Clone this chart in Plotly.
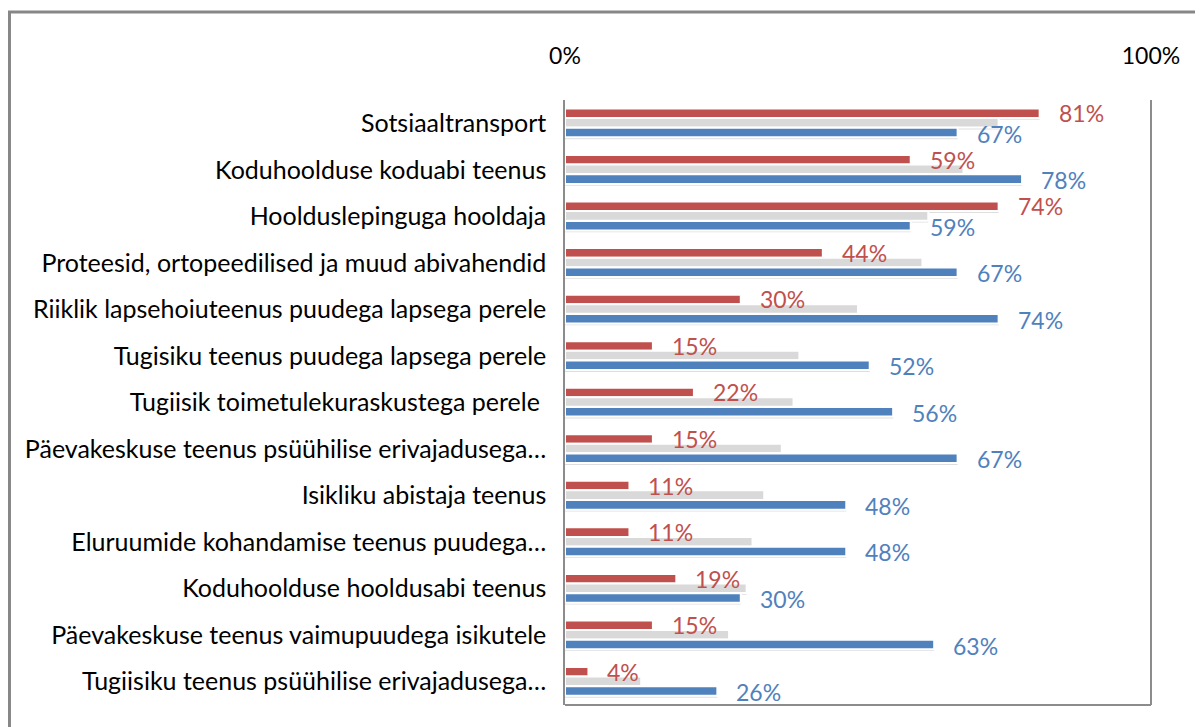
import plotly.graph_objects as go

# ── Data ────────────────────────────────────────────────
CATEGORIES = [
    "Sotsiaaltransport",
    "Koduhoolduse koduabi teenus",
    "Hoolduslepinguga hooldaja",
    "Proteesid, ortopeedilised ja muud abivahendid",
    "Riiklik lapsehoiuteenus puudega lapsega perele",
    "Tugisiku teenus puudega lapsega perele",
    "Tugiisik toimetulekuraskustega perele ",
    "Päevakeskuse teenus psüühilise erivajadusega…",
    "Isikliku abistaja teenus",
    "Eluruumide kohandamise teenus puudega…",
    "Koduhoolduse hooldusabi teenus",
    "Päevakeskuse teenus vaimupuudega isikutele",
    "Tugiisiku teenus psüühilise erivajadusega…",
]
RED_VALUES = [0.81, 0.59, 0.74, 0.44, 0.30, 0.15, 0.22, 0.15, 0.11, 0.11, 0.19, 0.15, 0.04]
GRAY_VALUES = [0.74, 0.68, 0.62, 0.61, 0.50, 0.40, 0.39, 0.37, 0.34, 0.32, 0.31, 0.28, 0.13]
BLUE_VALUES = [0.67, 0.78, 0.59, 0.67, 0.74, 0.52, 0.56, 0.67, 0.48, 0.48, 0.30, 0.63, 0.26]
X_TICKS = [0, 1]
X_TICK_LABELS = ["0%", "100%"]

# ── Style ───────────────────────────────────────────────
RED = "#C0504D"
BLUE = "#4F81BD"
LIGHT_GRAY = "#D9D9D9"
FRAME = "#878787"
AXIS = "#8C8C8C"
FONT = "Lato, Carlito, Calibri, sans-serif"

BAR_W = 0.205
CENTERS = {"red": -0.215, "gray": -0.01, "blue": 0.2}
SHADOW_DY = 0.06

pos = list(range(len(CATEGORIES)))

fig = go.Figure()

series = [("red", RED_VALUES, RED), ("gray", GRAY_VALUES, LIGHT_GRAY), ("blue", BLUE_VALUES, BLUE)]

# soft drop shadows under the bars
for key, vals, _ in series:
    fig.add_trace(go.Bar(
        x=vals, y=pos, orientation="h", width=BAR_W * 0.8,
        offset=CENTERS[key] - BAR_W * 0.4 + SHADOW_DY,
        marker=dict(color="rgba(0,0,0,0.13)", line=dict(width=0)),
        hoverinfo="skip", showlegend=False,
    ))

for key, vals, color in series:
    fig.add_trace(go.Bar(
        x=vals, y=pos, orientation="h", width=BAR_W,
        offset=CENTERS[key] - BAR_W / 2,
        marker=dict(color=color, line=dict(color="white", width=2)),
        showlegend=False,
    ))

# data labels (red and blue only)
for key, vals, color in [("red", RED_VALUES, RED), ("blue", BLUE_VALUES, BLUE)]:
    for p, v in zip(pos, vals):
        fig.add_annotation(
            x=v, y=p + CENTERS[key], text=f"{v:.0%}", showarrow=False,
            xanchor="left", yanchor="middle", xshift=17, yshift=-1 if key == "blue" else 0,
            font=dict(family=FONT, size=23, color=color),
        )

# plot-area border (right + bottom) and outer chart frame
fig.add_shape(type="line", xref="paper", yref="paper", x0=1, x1=1, y0=0, y1=1,
              line=dict(color=AXIS, width=2))
fig.add_shape(type="line", xref="paper", yref="paper", x0=0, x1=1, y0=0, y1=0,
              line=dict(color=AXIS, width=2))
fig.add_shape(type="rect", xref="paper", yref="paper", x0=-0.948, x1=1.2, y0=-0.2, y1=1.1455,
              line=dict(color=FRAME, width=3))

fig.update_layout(
    width=1195, height=719,
    margin=dict(l=557, r=52, t=92, b=22),
    paper_bgcolor="white", plot_bgcolor="white",
    barmode="overlay",
    font=dict(family=FONT, size=25, color="black"),
    showlegend=False,
)
fig.update_xaxes(
    side="top", range=[0, 1], tickvals=X_TICKS, ticktext=X_TICK_LABELS,
    showgrid=False, zeroline=False, showline=False, ticks="",
    ticklabelstandoff=30, tickfont=dict(size=23),
)
fig.update_yaxes(
    range=[len(CATEGORIES) - 0.5, -0.5], tickvals=pos, ticktext=CATEGORIES,
    showgrid=False, zeroline=False, showline=True, linecolor=AXIS, linewidth=1.5,
    ticks="", ticklabelstandoff=12,
)

fig.write_html("out.html")
